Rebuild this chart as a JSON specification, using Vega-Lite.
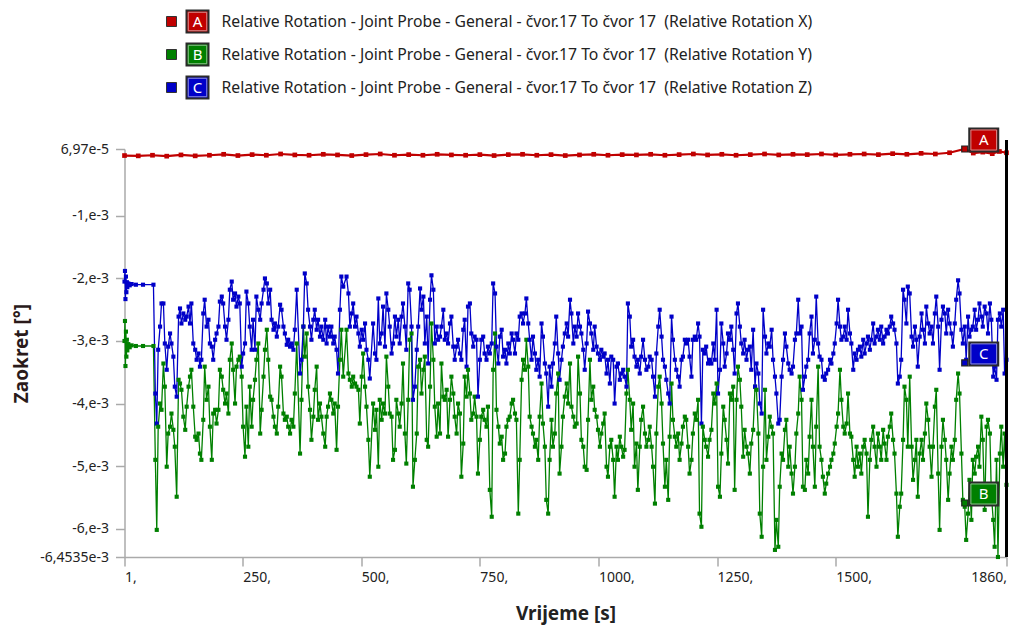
{
"$schema": "https://vega.github.io/schema/vega-lite/v6.json",
"background": "white",
"padding": {"left": 12.5, "top": 5, "right": 1, "bottom": 2},
"bounds": "flush",
"spacing": 45,
"config": {"font": "Noto Sans", "view": {"stroke": null}},
"resolve": {"scale": {"x": "independent", "y": "independent"}},
"datasets": {
"legend": [
{"s": "A", "label": "Relative Rotation - Joint Probe - General - čvor.17 To čvor 17\u00a0 (Relative Rotation X)"},
{"s": "B", "label": "Relative Rotation - Joint Probe - General - čvor.17 To čvor 17\u00a0 (Relative Rotation Y)"},
{"s": "C", "label": "Relative Rotation - Joint Probe - General - čvor.17 To čvor 17\u00a0 (Relative Rotation Z)"}
],
"ann": [
{"s": "A", "t": 1772, "v": 6.97e-5},
{"s": "B", "t": 1772, "v": -5.59e-3},
{"s": "C", "t": 1772, "v": -3.35e-3}
],
"cursor": [
{"t": 1860, "v": 6.97e-5, "v2": -6.4535e-3}
],
"red": [
{"t":1,"A":-3.5e-5},{"t":30,"A":-4e-5},{"t":60,"A":-3e-5},{"t":90,"A":-4.5e-5},{"t":120,"A":-2.5e-5},{"t":150,"A":-4e-5},{"t":180,"A":-3e-5},{"t":210,"A":-1.5e-5},{"t":240,"A":-3.5e-5},{"t":270,"A":-2e-5},{"t":300,"A":-3e-5},{"t":330,"A":-1e-5},{"t":360,"A":-2.5e-5},{"t":390,"A":-3e-5},{"t":420,"A":-1.5e-5},{"t":450,"A":-2.5e-5},{"t":480,"A":-3.5e-5},{"t":510,"A":-2e-5},{"t":540,"A":-1e-5},{"t":570,"A":-3e-5},{"t":600,"A":-2e-5},{"t":630,"A":-3e-5},{"t":660,"A":-1.5e-5},{"t":690,"A":-2.5e-5},{"t":720,"A":-3e-5},{"t":750,"A":-2e-5},{"t":780,"A":-3.5e-5},{"t":810,"A":-2e-5},{"t":840,"A":-1.5e-5},{"t":870,"A":-3e-5},{"t":900,"A":-2e-5},{"t":930,"A":-3.5e-5},{"t":960,"A":-2.5e-5},{"t":990,"A":-1.5e-5},{"t":1020,"A":-3e-5},{"t":1050,"A":-2e-5},{"t":1080,"A":-2.5e-5},{"t":1110,"A":-1.5e-5},{"t":1140,"A":-3e-5},{"t":1170,"A":-2e-5},{"t":1200,"A":-1e-5},{"t":1230,"A":-2.5e-5},{"t":1260,"A":-1.5e-5},{"t":1290,"A":-3e-5},{"t":1320,"A":-2e-5},{"t":1350,"A":-1e-5},{"t":1380,"A":-2.5e-5},{"t":1410,"A":-1.5e-5},{"t":1440,"A":-2e-5},{"t":1470,"A":-1e-5},{"t":1500,"A":-2.5e-5},{"t":1530,"A":-1.5e-5},{"t":1560,"A":-1e-5},{"t":1590,"A":-2e-5},{"t":1620,"A":-0.5e-5},{"t":1650,"A":-1.5e-5},{"t":1680,"A":0},{"t":1710,"A":-1e-5},{"t":1740,"A":1e-5},{"t":1772,"A":6.97e-5},{"t":1790,"A":0.5e-5},{"t":1810,"A":2e-5},{"t":1830,"A":-0.5e-5},{"t":1845,"A":3e-5},{"t":1860,"A":1e-5}
],
"bc": [
{"t":1,"B":-3.0e-3,"C":-2.05e-3},{"t":2,"B":-2.68e-3,"C":-1.88e-3},{"t":3,"B":-3.40e-3,"C":-2.33e-3},{"t":4,"B":-2.85e-3,"C":-1.97e-3},{"t":5,"B":-3.25e-3,"C":-2.22e-3},{"t":6,"B":-2.98e-3,"C":-2.06e-3},{"t":7,"B":-3.15e-3,"C":-2.14e-3},{"t":9,"B":-3.05e-3,"C":-2.08e-3},{"t":12,"B":-3.10e-3,"C":-2.11e-3},{"t":16,"B":-3.07e-3,"C":-2.09e-3},{"t":25,"B":-3.08e-3,"C":-2.10e-3},{"t":40,"B":-3.08e-3,"C":-2.10e-3},{"t":62,"B":-3.08e-3,"C":-2.10e-3},
{"t":66,"B":-4.90e-3,"C":-3.84e-3},{"t":69,"B":-6.02e-3,"C":-4.32e-3},{"t":72,"B":-4.37e-3,"C":-3.14e-3},{"t":76,"B":-4.00e-3,"C":-2.77e-3},{"t":83,"B":-3.36e-3,"C":-2.40e-3},{"t":90,"B":-5.01e-3,"C":-3.46e-3},{"t":97,"B":-4.37e-3,"C":-2.88e-3},{"t":104,"B":-4.42e-3,"C":-3.25e-3},{"t":111,"B":-5.49e-3,"C":-3.89e-3},{"t":115,"B":-3.62e-3,"C":-2.61e-3},{"t":118,"B":-3.68e-3,"C":-2.48e-3},{"t":125,"B":-4.21e-3,"C":-2.56e-3},{"t":132,"B":-4.05e-3,"C":-2.61e-3},{"t":139,"B":-3.57e-3,"C":-2.72e-3},{"t":142,"B":-3.46e-3,"C":-2.40e-3},{"t":146,"B":-4.05e-3,"C":-3.04e-3},{"t":153,"B":-4.58e-3,"C":-3.30e-3},{"t":160,"B":-4.80e-3,"C":-3.41e-3},{"t":163,"B":-4.90e-3,"C":-3.30e-3},{"t":167,"B":-4.26e-3,"C":-2.56e-3},{"t":170,"B":-3.41e-3,"C":-2.34e-3},{"t":174,"B":-3.94e-3,"C":-2.77e-3},{"t":181,"B":-4.37e-3,"C":-3.04e-3},{"t":185,"B":-4.90e-3,"C":-3.09e-3},{"t":188,"B":-4.16e-3,"C":-3.30e-3},{"t":195,"B":-4.32e-3,"C":-2.88e-3},{"t":202,"B":-3.46e-3,"C":-2.37e-3},{"t":209,"B":-3.78e-3,"C":-2.40e-3},{"t":216,"B":-3.84e-3,"C":-2.98e-3},{"t":220,"B":-4.16e-3,"C":-2.66e-3},{"t":223,"B":-3.30e-3,"C":-2.18e-3},{"t":227,"B":-3.04e-3,"C":-2.05e-3},{"t":230,"B":-3.46e-3,"C":-2.34e-3},{"t":237,"B":-3.41e-3,"C":-2.45e-3},{"t":244,"B":-3.25e-3,"C":-2.40e-3},{"t":248,"B":-3.57e-3,"C":-3.41e-3},{"t":251,"B":-4.37e-3,"C":-3.20e-3},{"t":255,"B":-4.85e-3,"C":-3.04e-3},{"t":258,"B":-4.05e-3,"C":-2.21e-3},{"t":265,"B":-3.73e-3,"C":-2.77e-3},{"t":269,"B":-4.37e-3,"C":-3.14e-3},{"t":272,"B":-3.94e-3,"C":-2.66e-3},{"t":279,"B":-3.30e-3,"C":-2.29e-3},{"t":287,"B":-4.48e-3,"C":-2.66e-3},{"t":294,"B":-3.57e-3,"C":-2.18e-3},{"t":297,"B":-3.14e-3,"C":-2.00e-3},{"t":301,"B":-2.82e-3,"C":-2.08e-3},{"t":308,"B":-3.89e-3,"C":-2.18e-3},{"t":315,"B":-4.21e-3,"C":-2.82e-3},{"t":322,"B":-4.48e-3,"C":-2.93e-3},{"t":329,"B":-3.41e-3,"C":-2.42e-3},{"t":336,"B":-4.16e-3,"C":-2.77e-3},{"t":343,"B":-4.21e-3,"C":-3.06e-3},{"t":350,"B":-4.48e-3,"C":-3.09e-3},{"t":357,"B":-4.37e-3,"C":-3.14e-3},{"t":364,"B":-3.04e-3,"C":-2.18e-3},{"t":371,"B":-4.80e-3,"C":-3.52e-3},{"t":378,"B":-2.77e-3,"C":-2.77e-3},{"t":381,"B":-3.25e-3,"C":-1.92e-3},{"t":385,"B":-2.88e-3,"C":-2.08e-3},{"t":392,"B":-4.10e-3,"C":-2.77e-3},{"t":395,"B":-4.58e-3,"C":-2.98e-3},{"t":399,"B":-4.21e-3,"C":-2.66e-3},{"t":406,"B":-3.41e-3,"C":-2.82e-3},{"t":413,"B":-4.00e-3,"C":-2.93e-3},{"t":420,"B":-4.48e-3,"C":-2.98e-3},{"t":424,"B":-4.69e-3,"C":-2.66e-3},{"t":427,"B":-4.21e-3,"C":-3.04e-3},{"t":434,"B":-3.84e-3,"C":-2.93e-3},{"t":441,"B":-4.16e-3,"C":-3.04e-3},{"t":448,"B":-4.74e-3,"C":-3.14e-3},{"t":451,"B":-4.05e-3,"C":-3.52e-3},{"t":455,"B":-3.30e-3,"C":-2.50e-3},{"t":458,"B":-2.82e-3,"C":-1.97e-3},{"t":462,"B":-3.57e-3,"C":-2.13e-3},{"t":469,"B":-2.82e-3,"C":-1.97e-3},{"t":476,"B":-3.62e-3,"C":-2.77e-3},{"t":483,"B":-3.57e-3,"C":-2.40e-3},{"t":490,"B":-3.73e-3,"C":-2.61e-3},{"t":497,"B":-4.32e-3,"C":-3.09e-3},{"t":504,"B":-3.20e-3,"C":-2.98e-3},{"t":511,"B":-4.05e-3,"C":-3.14e-3},{"t":518,"B":-5.17e-3,"C":-3.60e-3},{"t":525,"B":-4.00e-3,"C":-2.72e-3},{"t":532,"B":-4.10e-3,"C":-3.30e-3},{"t":536,"B":-5.01e-3,"C":-2.32e-3},{"t":539,"B":-3.94e-3,"C":-3.04e-3},{"t":546,"B":-4.00e-3,"C":-2.45e-3},{"t":553,"B":-3.25e-3,"C":-2.24e-3},{"t":560,"B":-4.16e-3,"C":-2.77e-3},{"t":564,"B":-4.21e-3,"C":-3.20e-3},{"t":567,"B":-4.90e-3,"C":-3.04e-3},{"t":574,"B":-3.94e-3,"C":-2.93e-3},{"t":581,"B":-4.37e-3,"C":-3.04e-3},{"t":588,"B":-3.36e-3,"C":-2.40e-3},{"t":595,"B":-4.96e-3,"C":-3.14e-3},{"t":599,"B":-3.94e-3,"C":-2.08e-3},{"t":602,"B":-2.98e-3,"C":-2.18e-3},{"t":606,"B":-2.88e-3,"C":-2.77e-3},{"t":609,"B":-5.33e-3,"C":-3.94e-3},{"t":617,"B":-4.48e-3,"C":-3.14e-3},
{"t":620,"B":-3.41e-3,"C":-2.77e-3},{"t":627,"B":-3.84e-3,"C":-2.50e-3},{"t":634,"B":-3.25e-3,"C":-3.04e-3},{"t":641,"B":-4.69e-3,"C":-3.36e-3},{"t":648,"B":-2.72e-3,"C":-1.95e-3},{"t":655,"B":-4.05e-3,"C":-3.04e-3},{"t":662,"B":-4.00e-3,"C":-2.98e-3},{"t":669,"B":-3.36e-3,"C":-2.77e-3},{"t":676,"B":-3.94e-3,"C":-2.98e-3},{"t":683,"B":-4.53e-3,"C":-3.04e-3},{"t":690,"B":-3.57e-3,"C":-2.61e-3},{"t":697,"B":-4.21e-3,"C":-3.30e-3},{"t":704,"B":-4.00e-3,"C":-2.98e-3},{"t":711,"B":-5.17e-3,"C":-3.30e-3},{"t":718,"B":-3.57e-3,"C":-2.66e-3},{"t":722,"B":-3.89e-3,"C":-3.41e-3},{"t":725,"B":-3.46e-3,"C":-2.45e-3},{"t":732,"B":-4.26e-3,"C":-2.88e-3},{"t":739,"B":-3.89e-3,"C":-2.93e-3},{"t":746,"B":-5.12e-3,"C":-3.89e-3},{"t":753,"B":-4.21e-3,"C":-2.98e-3},{"t":760,"B":-4.26e-3,"C":-3.20e-3},{"t":767,"B":-4.05e-3,"C":-3.09e-3},{"t":771,"B":-5.38e-3,"C":-3.20e-3},{"t":775,"B":-5.81e-3,"C":-3.04e-3},{"t":778,"B":-3.46e-3,"C":-2.08e-3},{"t":782,"B":-2.88e-3,"C":-2.24e-3},{"t":789,"B":-4.37e-3,"C":-3.36e-3},{"t":796,"B":-4.53e-3,"C":-2.82e-3},{"t":803,"B":-4.80e-3,"C":-3.14e-3},{"t":810,"B":-4.26e-3,"C":-3.04e-3},{"t":817,"B":-4.00e-3,"C":-2.88e-3},{"t":824,"B":-4.16e-3,"C":-3.20e-3},{"t":831,"B":-5.76e-3,"C":-2.98e-3},{"t":834,"B":-4.90e-3,"C":-2.61e-3},{"t":838,"B":-3.62e-3,"C":-2.56e-3},{"t":845,"B":-3.46e-3,"C":-2.56e-3},{"t":848,"B":-2.98e-3,"C":-2.32e-3},{"t":852,"B":-3.41e-3,"C":-2.72e-3},{"t":859,"B":-4.37e-3,"C":-3.30e-3},{"t":866,"B":-4.69e-3,"C":-3.20e-3},{"t":873,"B":-4.90e-3,"C":-3.30e-3},{"t":876,"B":-4.21e-3,"C":-3.57e-3},{"t":880,"B":-3.68e-3,"C":-2.72e-3},{"t":887,"B":-4.69e-3,"C":-3.36e-3},{"t":894,"B":-5.76e-3,"C":-4.05e-3},{"t":901,"B":-4.26e-3,"C":-3.73e-3},{"t":908,"B":-4.48e-3,"C":-3.04e-3},{"t":911,"B":-3.84e-3,"C":-2.61e-3},{"t":915,"B":-3.52e-3,"C":-3.20e-3},{"t":918,"B":-5.12e-3,"C":-3.62e-3},{"t":922,"B":-4.69e-3,"C":-3.30e-3},{"t":929,"B":-3.89e-3,"C":-2.88e-3},{"t":936,"B":-4.00e-3,"C":-2.93e-3},{"t":940,"B":-3.36e-3,"C":-2.34e-3},{"t":943,"B":-4.05e-3,"C":-2.56e-3},{"t":950,"B":-4.37e-3,"C":-2.77e-3},{"t":957,"B":-3.25e-3,"C":-2.56e-3},{"t":964,"B":-4.58e-3,"C":-2.88e-3},{"t":971,"B":-5.01e-3,"C":-3.46e-3},{"t":975,"B":-5.06e-3,"C":-3.04e-3},{"t":978,"B":-4.26e-3,"C":-2.53e-3},{"t":982,"B":-3.30e-3,"C":-2.72e-3},{"t":985,"B":-3.94e-3,"C":-2.88e-3},{"t":992,"B":-4.10e-3,"C":-2.77e-3},{"t":999,"B":-4.42e-3,"C":-3.20e-3},{"t":1006,"B":-4.48e-3,"C":-3.14e-3},{"t":1013,"B":-4.16e-3,"C":-3.20e-3},{"t":1017,"B":-5.01e-3,"C":-3.52e-3},{"t":1020,"B":-5.17e-3,"C":-3.30e-3},{"t":1027,"B":-4.58e-3,"C":-3.25e-3},{"t":1034,"B":-5.49e-3,"C":-4.00e-3},{"t":1041,"B":-4.90e-3,"C":-3.36e-3},{"t":1048,"B":-4.69e-3,"C":-3.52e-3},{"t":1055,"B":-4.74e-3,"C":-3.57e-3},{"t":1059,"B":-3.84e-3,"C":-3.73e-3},{"t":1062,"B":-3.46e-3,"C":-2.40e-3},{"t":1069,"B":-4.42e-3,"C":-3.09e-3},{"t":1076,"B":-5.01e-3,"C":-3.25e-3},{"t":1083,"B":-5.38e-3,"C":-3.30e-3},{"t":1090,"B":-4.26e-3,"C":-3.25e-3},{"t":1098,"B":-4.48e-3,"C":-3.30e-3},{"t":1105,"B":-4.58e-3,"C":-3.41e-3},{"t":1112,"B":-4.69e-3,"C":-3.30e-3},{"t":1119,"B":-5.60e-3,"C":-3.89e-3},{"t":1126,"B":-3.73e-3,"C":-2.77e-3},{"t":1129,"B":-3.57e-3,"C":-2.50e-3},{"t":1133,"B":-4.00e-3,"C":-2.93e-3},{"t":1140,"B":-5.33e-3,"C":-3.41e-3},{"t":1147,"B":-5.54e-3,"C":-3.84e-3},{"t":1150,"B":-4.53e-3,"C":-4.00e-3},{"t":1154,"B":-3.68e-3,"C":-2.61e-3},{"t":1161,"B":-4.53e-3,"C":-3.30e-3},{"t":1168,"B":-4.48e-3,"C":-3.57e-3},{"t":1171,"B":-4.90e-3,"C":-3.73e-3},{"t":1175,"B":-4.64e-3,"C":-3.30e-3},{"t":1182,"B":-4.21e-3,"C":-2.98e-3},{"t":1189,"B":-4.69e-3,"C":-2.98e-3},{"t":1192,"B":-5.12e-3,"C":-3.25e-3},{"t":1196,"B":-4.90e-3,"C":-3.57e-3},{"t":1203,"B":-4.16e-3,"C":-2.93e-3},{"t":1210,"B":-3.94e-3,"C":-2.72e-3},{"t":1213,"B":-5.76e-3,"C":-2.93e-3},{"t":1217,"B":-5.97e-3,"C":-4.32e-3},{"t":1220,"B":-4.37e-3,"C":-3.14e-3},{"t":1224,"B":-4.58e-3,"C":-3.20e-3},{"t":1231,"B":-4.85e-3,"C":-3.36e-3},{"t":1238,"B":-4.42e-3,"C":-3.36e-3},
{"t":1242,"B":-3.84e-3,"C":-3.04e-3},{"t":1249,"B":-3.68e-3,"C":-2.50e-3},{"t":1252,"B":-5.33e-3,"C":-3.84e-3},{"t":1256,"B":-5.49e-3,"C":-3.46e-3},{"t":1263,"B":-4.05e-3,"C":-3.04e-3},{"t":1270,"B":-4.58e-3,"C":-3.20e-3},{"t":1273,"B":-4.96e-3,"C":-2.88e-3},{"t":1277,"B":-3.84e-3,"C":-2.98e-3},{"t":1284,"B":-3.73e-3,"C":-3.14e-3},{"t":1287,"B":-5.38e-3,"C":-3.52e-3},{"t":1291,"B":-3.94e-3,"C":-2.56e-3},{"t":1294,"B":-3.41e-3,"C":-2.40e-3},{"t":1298,"B":-3.62e-3,"C":-2.77e-3},{"t":1305,"B":-4.85e-3,"C":-3.20e-3},{"t":1312,"B":-4.69e-3,"C":-3.30e-3},{"t":1319,"B":-5.12e-3,"C":-3.09e-3},{"t":1326,"B":-4.42e-3,"C":-2.82e-3},{"t":1330,"B":-3.73e-3,"C":-3.73e-3},{"t":1333,"B":-3.78e-3,"C":-3.36e-3},{"t":1340,"B":-5.76e-3,"C":-4.00e-3},{"t":1344,"B":-6.13e-3,"C":-4.16e-3},{"t":1347,"B":-5.01e-3,"C":-2.50e-3},{"t":1351,"B":-3.78e-3,"C":-2.93e-3},{"t":1354,"B":-4.90e-3,"C":-3.20e-3},{"t":1361,"B":-4.21e-3,"C":-3.09e-3},{"t":1368,"B":-4.48e-3,"C":-3.30e-3},{"t":1372,"B":-6.34e-3,"C":-3.57e-3},{"t":1375,"B":-5.86e-3,"C":-3.84e-3},{"t":1379,"B":-6.29e-3,"C":-4.32e-3},{"t":1382,"B":-5.33e-3,"C":-4.26e-3},{"t":1389,"B":-4.90e-3,"C":-3.30e-3},{"t":1396,"B":-4.26e-3,"C":-3.09e-3},{"t":1403,"B":-4.69e-3,"C":-3.46e-3},{"t":1410,"B":-5.44e-3,"C":-3.41e-3},{"t":1417,"B":-4.48e-3,"C":-2.88e-3},{"t":1421,"B":-4.16e-3,"C":-2.34e-3},{"t":1424,"B":-3.57e-3,"C":-2.88e-3},{"t":1431,"B":-5.33e-3,"C":-3.78e-3},{"t":1438,"B":-4.90e-3,"C":-3.41e-3},{"t":1445,"B":-4.53e-3,"C":-2.88e-3},{"t":1452,"B":-4.69e-3,"C":-3.20e-3},{"t":1459,"B":-4.37e-3,"C":-2.29e-3},{"t":1463,"B":-3.41e-3,"C":-3.04e-3},{"t":1466,"B":-4.69e-3,"C":-3.25e-3},{"t":1473,"B":-5.17e-3,"C":-3.57e-3},{"t":1477,"B":-5.44e-3,"C":-3.62e-3},{"t":1480,"B":-5.28e-3,"C":-3.52e-3},{"t":1488,"B":-5.01e-3,"C":-3.30e-3},{"t":1495,"B":-4.80e-3,"C":-3.20e-3},{"t":1502,"B":-4.37e-3,"C":-2.72e-3},{"t":1505,"B":-4.16e-3,"C":-2.34e-3},{"t":1509,"B":-3.46e-3,"C":-2.77e-3},{"t":1516,"B":-4.37e-3,"C":-2.93e-3},{"t":1523,"B":-4.32e-3,"C":-2.98e-3},{"t":1526,"B":-3.84e-3,"C":-2.50e-3},{"t":1530,"B":-4.48e-3,"C":-2.88e-3},{"t":1537,"B":-4.90e-3,"C":-3.46e-3},{"t":1544,"B":-4.69e-3,"C":-3.30e-3},{"t":1551,"B":-4.80e-3,"C":-3.09e-3},{"t":1558,"B":-4.69e-3,"C":-2.98e-3},{"t":1565,"B":-4.80e-3,"C":-3.04e-3},{"t":1568,"B":-5.81e-3,"C":-2.93e-3},{"t":1572,"B":-4.90e-3,"C":-3.14e-3},{"t":1579,"B":-4.37e-3,"C":-2.72e-3},{"t":1586,"B":-5.01e-3,"C":-2.93e-3},{"t":1593,"B":-4.69e-3,"C":-2.98e-3},{"t":1600,"B":-4.42e-3,"C":-3.04e-3},{"t":1607,"B":-4.90e-3,"C":-2.82e-3},{"t":1614,"B":-4.37e-3,"C":-2.77e-3},{"t":1621,"B":-4.58e-3,"C":-2.72e-3},{"t":1628,"B":-5.44e-3,"C":-3.04e-3},{"t":1631,"B":-6.13e-3,"C":-3.68e-3},{"t":1635,"B":-5.65e-3,"C":-3.57e-3},{"t":1642,"B":-4.58e-3,"C":-2.18e-3},{"t":1645,"B":-3.73e-3,"C":-2.34e-3},{"t":1649,"B":-3.94e-3,"C":-2.72e-3},{"t":1652,"B":-4.69e-3,"C":-2.13e-3},{"t":1656,"B":-3.57e-3,"C":-2.24e-3},{"t":1663,"B":-5.22e-3,"C":-3.09e-3},{"t":1670,"B":-4.58e-3,"C":-2.98e-3},{"t":1673,"B":-5.49e-3,"C":-3.41e-3},{"t":1677,"B":-4.80e-3,"C":-2.93e-3},{"t":1684,"B":-4.90e-3,"C":-2.82e-3},{"t":1691,"B":-4.00e-3,"C":-2.45e-3},{"t":1698,"B":-4.69e-3,"C":-2.88e-3},{"t":1705,"B":-4.69e-3,"C":-3.04e-3},{"t":1712,"B":-3.78e-3,"C":-2.29e-3},{"t":1719,"B":-6.02e-3,"C":-3.46e-3},{"t":1726,"B":-4.26e-3,"C":-2.45e-3},{"t":1733,"B":-4.90e-3,"C":-2.88e-3},{"t":1740,"B":-5.12e-3,"C":-2.72e-3},{"t":1747,"B":-4.90e-3,"C":-3.09e-3},{"t":1754,"B":-3.94e-3,"C":-2.34e-3},{"t":1758,"B":-3.52e-3,"C":-2.03e-3},{"t":1761,"B":-3.84e-3,"C":-2.24e-3},{"t":1768,"B":-5.54e-3,"C":-3.04e-3},{"t":1775,"B":-6.18e-3,"C":-3.30e-3},{"t":1782,"B":-5.22e-3,"C":-2.93e-3},{"t":1789,"B":-4.90e-3,"C":-2.77e-3},{"t":1796,"B":-4.85e-3,"C":-2.82e-3},{"t":1803,"B":-5.01e-3,"C":-2.40e-3},{"t":1807,"B":-4.21e-3,"C":-2.61e-3},{"t":1810,"B":-4.58e-3,"C":-2.77e-3},{"t":1814,"B":-5.70e-3,"C":-2.45e-3},{"t":1818,"B":-4.37e-3,"C":-2.56e-3},{"t":1825,"B":-4.48e-3,"C":-2.40e-3},{"t":1832,"B":-5.86e-3,"C":-3.57e-3},{"t":1835,"B":-6.29e-3,"C":-3.41e-3},{"t":1839,"B":-4.90e-3,"C":-3.62e-3},{"t":1842,"B":-6.4535e-3,"C":-2.66e-3},{"t":1846,"B":-4.80e-3,"C":-2.56e-3},{"t":1849,"B":-4.37e-3,"C":-2.77e-3},{"t":1853,"B":-5.01e-3,"C":-2.50e-3},{"t":1856,"B":-4.48e-3,"C":-3.52e-3},{"t":1860,"B":-5.30e-3,"C":-3.30e-3},
{"t":79,"B":-4.10e-3,"C":-2.40e-3},{"t":86,"B":-3.73e-3,"C":-3.04e-3},{"t":93,"B":-4.48e-3,"C":-3.09e-3},{"t":100,"B":-4.16e-3,"C":-3.04e-3},{"t":107,"B":-4.69e-3,"C":-3.73e-3},{"t":121,"B":-3.78e-3,"C":-2.72e-3},{"t":129,"B":-4.42e-3,"C":-2.66e-3},{"t":136,"B":-3.73e-3,"C":-2.45e-3},{"t":150,"B":-4.53e-3,"C":-3.14e-3},{"t":157,"B":-4.48e-3,"C":-3.20e-3},{"t":178,"B":-3.73e-3,"C":-2.66e-3},{"t":192,"B":-4.10e-3,"C":-2.98e-3},{"t":199,"B":-4.10e-3,"C":-2.77e-3},{"t":206,"B":-3.57e-3,"C":-2.29e-3},{"t":213,"B":-4.00e-3,"C":-2.77e-3},{"t":234,"B":-4.00e-3,"C":-2.24e-3},{"t":241,"B":-3.30e-3,"C":-2.29e-3},{"t":262,"B":-4.69e-3,"C":-2.40e-3},{"t":276,"B":-3.62e-3,"C":-3.14e-3},{"t":283,"B":-3.04e-3,"C":-2.50e-3},{"t":290,"B":-4.10e-3,"C":-2.40e-3},{"t":304,"B":-3.30e-3,"C":-2.40e-3},{"t":311,"B":-3.94e-3,"C":-2.66e-3},{"t":318,"B":-4.37e-3,"C":-2.72e-3},{"t":325,"B":-4.05e-3,"C":-2.77e-3},{"t":332,"B":-3.57e-3,"C":-2.50e-3},{"t":339,"B":-4.26e-3,"C":-2.88e-3},{"t":346,"B":-4.37e-3,"C":-2.98e-3},{"t":353,"B":-4.26e-3,"C":-3.04e-3},{"t":360,"B":-3.84e-3,"C":-2.82e-3},{"t":374,"B":-3.94e-3,"C":-3.30e-3},{"t":388,"B":-3.73e-3,"C":-2.50e-3},{"t":402,"B":-3.78e-3,"C":-2.50e-3},{"t":409,"B":-4.26e-3,"C":-2.66e-3},{"t":416,"B":-4.21e-3,"C":-2.77e-3},{"t":430,"B":-4.05e-3,"C":-2.77e-3},{"t":437,"B":-3.94e-3,"C":-2.77e-3},{"t":444,"B":-4.00e-3,"C":-2.93e-3},{"t":473,"B":-3.52e-3,"C":-2.24e-3},{"t":480,"B":-3.73e-3,"C":-2.56e-3},{"t":487,"B":-3.68e-3,"C":-2.77e-3},{"t":494,"B":-3.78e-3,"C":-2.88e-3},{"t":501,"B":-3.57e-3,"C":-2.82e-3},{"t":508,"B":-3.73e-3,"C":-2.72e-3},{"t":515,"B":-4.58e-3,"C":-3.30e-3},{"t":529,"B":-4.42e-3,"C":-3.20e-3},{"t":543,"B":-4.26e-3,"C":-2.88e-3},{"t":550,"B":-4.16e-3,"C":-3.09e-3},{"t":557,"B":-3.73e-3,"C":-2.50e-3},{"t":571,"B":-4.74e-3,"C":-2.61e-3},{"t":578,"B":-4.16e-3,"C":-2.66e-3},{"t":585,"B":-4.00e-3,"C":-2.61e-3},{"t":592,"B":-4.48e-3,"C":-2.77e-3},{"t":613,"B":-4.90e-3,"C":-3.73e-3},
{"t":624,"B":-3.30e-3,"C":-2.16e-3},{"t":631,"B":-3.46e-3,"C":-2.29e-3},{"t":638,"B":-4.58e-3,"C":-2.61e-3},{"t":645,"B":-3.73e-3,"C":-2.34e-3},{"t":652,"B":-3.30e-3,"C":-2.18e-3},{"t":659,"B":-4.53e-3,"C":-2.77e-3},{"t":666,"B":-4.48e-3,"C":-2.93e-3},{"t":673,"B":-3.89e-3,"C":-2.50e-3},{"t":680,"B":-3.78e-3,"C":-2.88e-3},{"t":687,"B":-3.94e-3,"C":-2.72e-3},{"t":694,"B":-3.84e-3,"C":-3.09e-3},{"t":701,"B":-4.48e-3,"C":-3.09e-3},{"t":708,"B":-4.16e-3,"C":-3.20e-3},{"t":715,"B":-4.64e-3,"C":-2.82e-3},{"t":729,"B":-3.84e-3,"C":-2.40e-3},{"t":736,"B":-4.16e-3,"C":-3.09e-3},{"t":743,"B":-4.21e-3,"C":-2.98e-3},{"t":750,"B":-4.58e-3,"C":-3.30e-3},{"t":757,"B":-4.10e-3,"C":-2.93e-3},{"t":764,"B":-4.37e-3,"C":-3.30e-3},{"t":785,"B":-4.10e-3,"C":-3.09e-3},{"t":792,"B":-4.64e-3,"C":-2.93e-3},{"t":799,"B":-4.90e-3,"C":-3.25e-3},{"t":806,"B":-4.37e-3,"C":-3.36e-3},{"t":813,"B":-4.21e-3,"C":-3.20e-3},{"t":820,"B":-3.94e-3,"C":-2.98e-3},{"t":827,"B":-4.26e-3,"C":-2.88e-3},{"t":841,"B":-3.30e-3,"C":-2.72e-3},{"t":855,"B":-4.21e-3,"C":-2.98e-3},{"t":862,"B":-4.48e-3,"C":-2.93e-3},{"t":869,"B":-4.58e-3,"C":-3.46e-3},{"t":883,"B":-4.32e-3,"C":-2.93e-3},{"t":890,"B":-5.54e-3,"C":-3.52e-3},{"t":897,"B":-4.90e-3,"C":-3.41e-3},{"t":904,"B":-4.69e-3,"C":-3.36e-3},{"t":925,"B":-4.21e-3,"C":-3.09e-3},{"t":933,"B":-3.68e-3,"C":-2.72e-3},{"t":947,"B":-4.21e-3,"C":-3.04e-3},{"t":954,"B":-4.32e-3,"C":-2.93e-3},{"t":961,"B":-3.84e-3,"C":-2.77e-3},{"t":968,"B":-4.69e-3,"C":-3.14e-3},{"t":989,"B":-3.73e-3,"C":-3.14e-3},{"t":996,"B":-4.21e-3,"C":-3.09e-3},{"t":1003,"B":-4.69e-3,"C":-3.30e-3},{"t":1010,"B":-4.32e-3,"C":-3.25e-3},{"t":1024,"B":-4.69e-3,"C":-3.68e-3},{"t":1031,"B":-4.90e-3,"C":-3.30e-3},{"t":1038,"B":-4.69e-3,"C":-3.41e-3},{"t":1045,"B":-4.53e-3,"C":-3.62e-3},{"t":1052,"B":-4.85e-3,"C":-3.46e-3},{"t":1066,"B":-3.94e-3,"C":-2.61e-3},{"t":1073,"B":-4.00e-3,"C":-2.98e-3},{"t":1080,"B":-4.64e-3,"C":-3.41e-3},{"t":1087,"B":-4.69e-3,"C":-3.52e-3},{"t":1094,"B":-4.05e-3,"C":-2.98e-3},{"t":1101,"B":-4.69e-3,"C":-3.46e-3},{"t":1108,"B":-4.37e-3,"C":-3.25e-3},{"t":1115,"B":-5.01e-3,"C":-3.57e-3},{"t":1122,"B":-4.48e-3,"C":-3.20e-3},{"t":1136,"B":-4.64e-3,"C":-3.30e-3},{"t":1143,"B":-4.90e-3,"C":-3.62e-3},{"t":1157,"B":-4.26e-3,"C":-2.98e-3},{"t":1164,"B":-4.69e-3,"C":-3.46e-3},{"t":1178,"B":-4.37e-3,"C":-3.25e-3},{"t":1185,"B":-4.26e-3,"C":-3.04e-3},{"t":1199,"B":-4.48e-3,"C":-2.98e-3},{"t":1206,"B":-4.26e-3,"C":-2.98e-3},{"t":1227,"B":-4.69e-3,"C":-3.09e-3},{"t":1234,"B":-4.58e-3,"C":-3.30e-3},
{"t":1245,"B":-4.00e-3,"C":-3.30e-3},{"t":1259,"B":-4.80e-3,"C":-2.72e-3},{"t":1266,"B":-4.26e-3,"C":-3.41e-3},{"t":1280,"B":-3.94e-3,"C":-2.77e-3},{"t":1301,"B":-4.05e-3,"C":-3.04e-3},{"t":1308,"B":-4.42e-3,"C":-2.98e-3},{"t":1315,"B":-4.80e-3,"C":-3.14e-3},{"t":1322,"B":-4.64e-3,"C":-3.46e-3},{"t":1337,"B":-4.48e-3,"C":-3.52e-3},{"t":1358,"B":-4.53e-3,"C":-3.04e-3},{"t":1365,"B":-4.37e-3,"C":-2.82e-3},{"t":1386,"B":-4.80e-3,"C":-3.57e-3},{"t":1393,"B":-4.42e-3,"C":-2.88e-3},{"t":1400,"B":-5.01e-3,"C":-3.36e-3},{"t":1407,"B":-5.12e-3,"C":-3.52e-3},{"t":1414,"B":-5.01e-3,"C":-2.98e-3},{"t":1428,"B":-3.94e-3,"C":-2.77e-3},{"t":1435,"B":-5.38e-3,"C":-3.57e-3},{"t":1442,"B":-5.12e-3,"C":-3.30e-3},{"t":1449,"B":-3.94e-3,"C":-2.61e-3},{"t":1456,"B":-5.33e-3,"C":-2.98e-3},{"t":1470,"B":-4.90e-3,"C":-3.30e-3},{"t":1484,"B":-5.12e-3,"C":-3.46e-3},{"t":1491,"B":-4.90e-3,"C":-3.36e-3},{"t":1498,"B":-4.64e-3,"C":-3.04e-3},{"t":1512,"B":-3.94e-3,"C":-2.98e-3},{"t":1519,"B":-4.48e-3,"C":-2.77e-3},{"t":1533,"B":-4.53e-3,"C":-3.04e-3},{"t":1540,"B":-5.17e-3,"C":-3.20e-3},{"t":1547,"B":-5.01e-3,"C":-3.14e-3},{"t":1554,"B":-5.12e-3,"C":-3.25e-3},{"t":1561,"B":-4.58e-3,"C":-3.20e-3},{"t":1575,"B":-4.58e-3,"C":-2.98e-3},{"t":1582,"B":-4.69e-3,"C":-3.04e-3},{"t":1589,"B":-4.48e-3,"C":-2.82e-3},{"t":1596,"B":-4.90e-3,"C":-2.77e-3},{"t":1603,"B":-4.64e-3,"C":-2.93e-3},{"t":1610,"B":-4.53e-3,"C":-2.88e-3},{"t":1617,"B":-4.16e-3,"C":-2.61e-3},{"t":1624,"B":-4.80e-3,"C":-2.82e-3},{"t":1638,"B":-5.44e-3,"C":-3.30e-3},{"t":1660,"B":-4.69e-3,"C":-2.93e-3},{"t":1667,"B":-4.90e-3,"C":-2.77e-3},{"t":1681,"B":-4.58e-3,"C":-2.56e-3},{"t":1688,"B":-4.48e-3,"C":-3.04e-3},{"t":1695,"B":-4.26e-3,"C":-2.72e-3},{"t":1702,"B":-5.17e-3,"C":-2.77e-3},{"t":1709,"B":-4.05e-3,"C":-2.56e-3},{"t":1716,"B":-5.12e-3,"C":-2.77e-3},{"t":1723,"B":-4.69e-3,"C":-2.66e-3},{"t":1730,"B":-4.58e-3,"C":-2.56e-3},{"t":1737,"B":-5.54e-3,"C":-2.50e-3},{"t":1744,"B":-4.69e-3,"C":-2.88e-3},{"t":1751,"B":-4.58e-3,"C":-2.72e-3},{"t":1765,"B":-4.80e-3,"C":-2.82e-3},{"t":1772,"B":-5.65e-3,"C":-2.77e-3},{"t":1779,"B":-5.76e-3,"C":-2.61e-3},{"t":1786,"B":-5.86e-3,"C":-2.82e-3},{"t":1793,"B":-5.12e-3,"C":-2.50e-3},{"t":1800,"B":-4.69e-3,"C":-2.66e-3},{"t":1821,"B":-4.26e-3,"C":-2.88e-3},{"t":1828,"B":-5.44e-3,"C":-2.66e-3}
]
},
"vconcat": [
{
"width": 882, "height": 99,
"data": {"name": "legend"},
"encoding": {
"y": {"field": "s", "type": "nominal", "scale": {"type": "point", "domain": ["A","B","C"], "padding": 0.5}, "axis": null},
"color": {"field": "s", "type": "nominal", "scale": {"domain": ["A","B","C"], "range": ["#c00000","#008000","#0000c8"]}, "legend": null}
},
"layer": [
{"mark": {"type": "point", "shape": "square", "filled": true, "size": 100, "stroke": "#333333", "strokeWidth": 1, "opacity": 1},
 "encoding": {"x": {"datum": 47, "type": "quantitative", "scale": {"domain": [0, 882], "nice": false, "zero": false}, "axis": null}}},
{"mark": {"type": "point", "shape": "square", "filled": true, "size": 484, "stroke": "#2a2a2a", "strokeWidth": 2, "opacity": 1},
 "encoding": {"x": {"datum": 73, "type": "quantitative"}}},
{"mark": {"type": "point", "shape": "square", "filled": false, "size": 340, "strokeWidth": 1, "opacity": 0.6},
 "encoding": {"x": {"datum": 73, "type": "quantitative"}, "color": {"value": "#e8e8e8"}}},
{"mark": {"type": "text", "fontSize": 15, "align": "center", "baseline": "middle"},
 "encoding": {"x": {"datum": 73, "type": "quantitative"}, "text": {"field": "s"}, "color": {"value": "white"}}},
{"mark": {"type": "text", "fontSize": 15.75, "align": "left", "baseline": "middle"},
 "encoding": {"x": {"datum": 97, "type": "quantitative"}, "text": {"field": "label"}, "color": {"value": "#222222"}}}
]
},
{
"width": 882, "height": 408,
"encoding": {
"x": {"field": "t", "type": "quantitative", "scale": {"domain": [1, 1860], "nice": false, "zero": false},
 "axis": {"title": "Vrijeme [s]", "values": [1,250,500,750,1000,1250,1500,1860], "labelExpr": "datum.value + ','",
  "labelAlign": {"condition": {"test": "datum.value == 1860", "value": "right"}, "value": "left"},
  "grid": false, "tickSize": 9, "labelPadding": 4, "domainColor": "#aaaaaa", "domainWidth": 1.5, "tickColor": "#aaaaaa", "tickWidth": 1.5,
  "labelColor": "#222222", "labelFontSize": 14, "labelFlush": false, "labelOverlap": false,
  "titleFontSize": 19, "titleFontWeight": "bold", "titleColor": "#222222", "titleY": 56, "titleBaseline": "middle"}},
"y": {"field": "v", "type": "quantitative", "scale": {"domain": [-0.0064535, 0.0000697], "nice": false, "zero": false},
 "axis": {"title": "Zaokret [°]", "values": [0.0000697,-0.001,-0.002,-0.003,-0.004,-0.005,-0.006,-0.0064535],
  "labelExpr": "datum.value > 0 ? '6,97e-5' : datum.value < -0.0064 ? '-6,4535e-3' : '-' + round(-datum.value * 1000) + ',e-3'",
  "grid": false, "tickSize": 9, "labelPadding": 7, "domainColor": "#aaaaaa", "domainWidth": 1.5, "tickColor": "#aaaaaa", "tickWidth": 1.5,
  "labelColor": "#222222", "labelFontSize": 14, "labelFlush": false, "labelOverlap": false,
  "titleFontSize": 19, "titleFontWeight": "bold", "titleColor": "#2a1a1a", "titleX": -103, "titleY": 204, "titleBaseline": "middle", "titleAngle": -90}},
"color": {"field": "s", "type": "nominal", "scale": {"domain": ["A","B","C"], "range": ["#c00000","#008000","#0000c8"]}, "legend": null}
},
"layer": [
{"data": {"name": "red"}, "transform": [{"fold": ["A"], "as": ["s", "v"]}],
 "mark": {"type": "line", "strokeWidth": 2.2, "point": {"filled": true, "shape": "square", "size": 22, "opacity": 1}}},
{"data": {"name": "bc"}, "transform": [{"fold": ["B", "C"], "as": ["s", "v"]}],
 "mark": {"type": "line", "strokeWidth": 1.3, "point": {"filled": true, "shape": "square", "size": 17, "opacity": 1}}},
{"data": {"name": "cursor"},
 "mark": {"type": "rule", "strokeWidth": 3, "yOffset": -9},
 "encoding": {"y2": {"field": "v2"}, "color": {"value": "black"}}},
{"data": {"name": "ann"},
 "mark": {"type": "point", "shape": "square", "filled": true, "size": 36, "stroke": "#222222", "strokeWidth": 1.2, "opacity": 1}},
{"data": {"name": "ann"},
 "mark": {"type": "point", "shape": "M-1,-0.793H1V0.793H-1Z", "filled": true, "size": 841, "stroke": "#2a2a2a", "strokeWidth": 2, "opacity": 1, "xOffset": 19, "yOffset": -9}},
{"data": {"name": "ann"},
 "mark": {"type": "point", "shape": "M-1,-0.78H1V0.78H-1Z", "filled": false, "size": 660, "strokeWidth": 1, "opacity": 0.6, "xOffset": 19, "yOffset": -9},
 "encoding": {"color": {"value": "#e8e8e8"}}},
{"data": {"name": "ann"},
 "mark": {"type": "text", "fontSize": 15, "align": "center", "baseline": "middle", "dx": 19, "dy": -9},
 "encoding": {"text": {"field": "s"}, "color": {"value": "white"}}}
]
}
]
}
